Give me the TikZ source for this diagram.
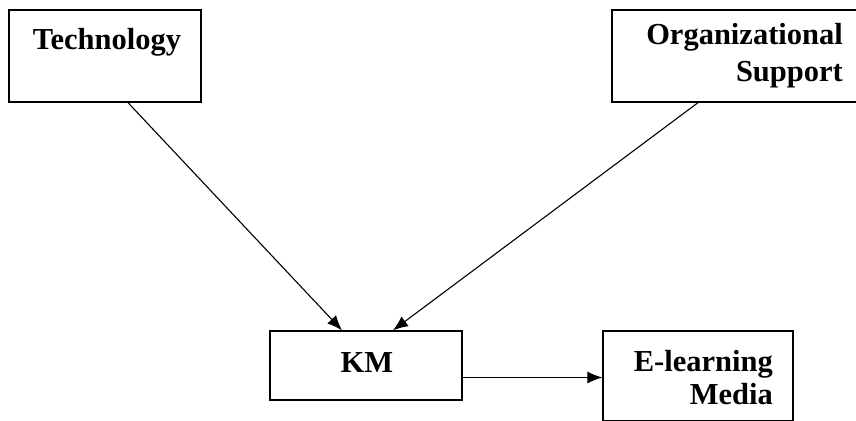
\documentclass[tikz,border=0pt]{standalone}
\usepackage{fontspec}
\setmainfont{Liberation Serif}
\usetikzlibrary{arrows.meta}
\begin{document}
\begin{tikzpicture}[x=1pt,y=-1pt,
  box/.style={draw,line width=1.3pt,rectangle,inner sep=0pt},
  lbl/.style={font=\fontsize{30.5}{36}\selectfont\bfseries,inner sep=0pt},
  conn/.style={line width=1.1pt,-{Latex[length=15pt,width=12pt]}}]
\useasboundingbox (0,0) rectangle (856,420);
\clip (0,0) rectangle (856,420);
\node[box,minimum width=192pt,minimum height=92pt] (tech) at (105,56) {};
\node[box,minimum width=246pt,minimum height=92pt] (org) at (735,56) {};
\node[box,minimum width=192pt,minimum height=69pt] (km) at (366,365.5) {};
\node[box,minimum width=190pt,minimum height=90pt] (el) at (698,376) {};
\node[lbl] (techt) at (107,42) {Technology};
\node[lbl,align=right,anchor=east] (orgt) at (843,56) {Organizational\\[1pt]Support};
\node[lbl] (kmt) at (367,363) {KM};
\node[lbl,align=right,anchor=east,font=\fontsize{30.5}{33}\selectfont\bfseries] (elt) at (773,378) {E-learning\\Media};
\draw[conn] ([xshift=23pt]tech.south) -- ([xshift=-24pt]km.north);
\draw[conn] ([xshift=-37pt]org.south) -- ([xshift=27pt]km.north);
\draw[conn] ([yshift=-12pt]km.east) -- ([yshift=-1.5pt]el.west);
\end{tikzpicture}
\end{document}
